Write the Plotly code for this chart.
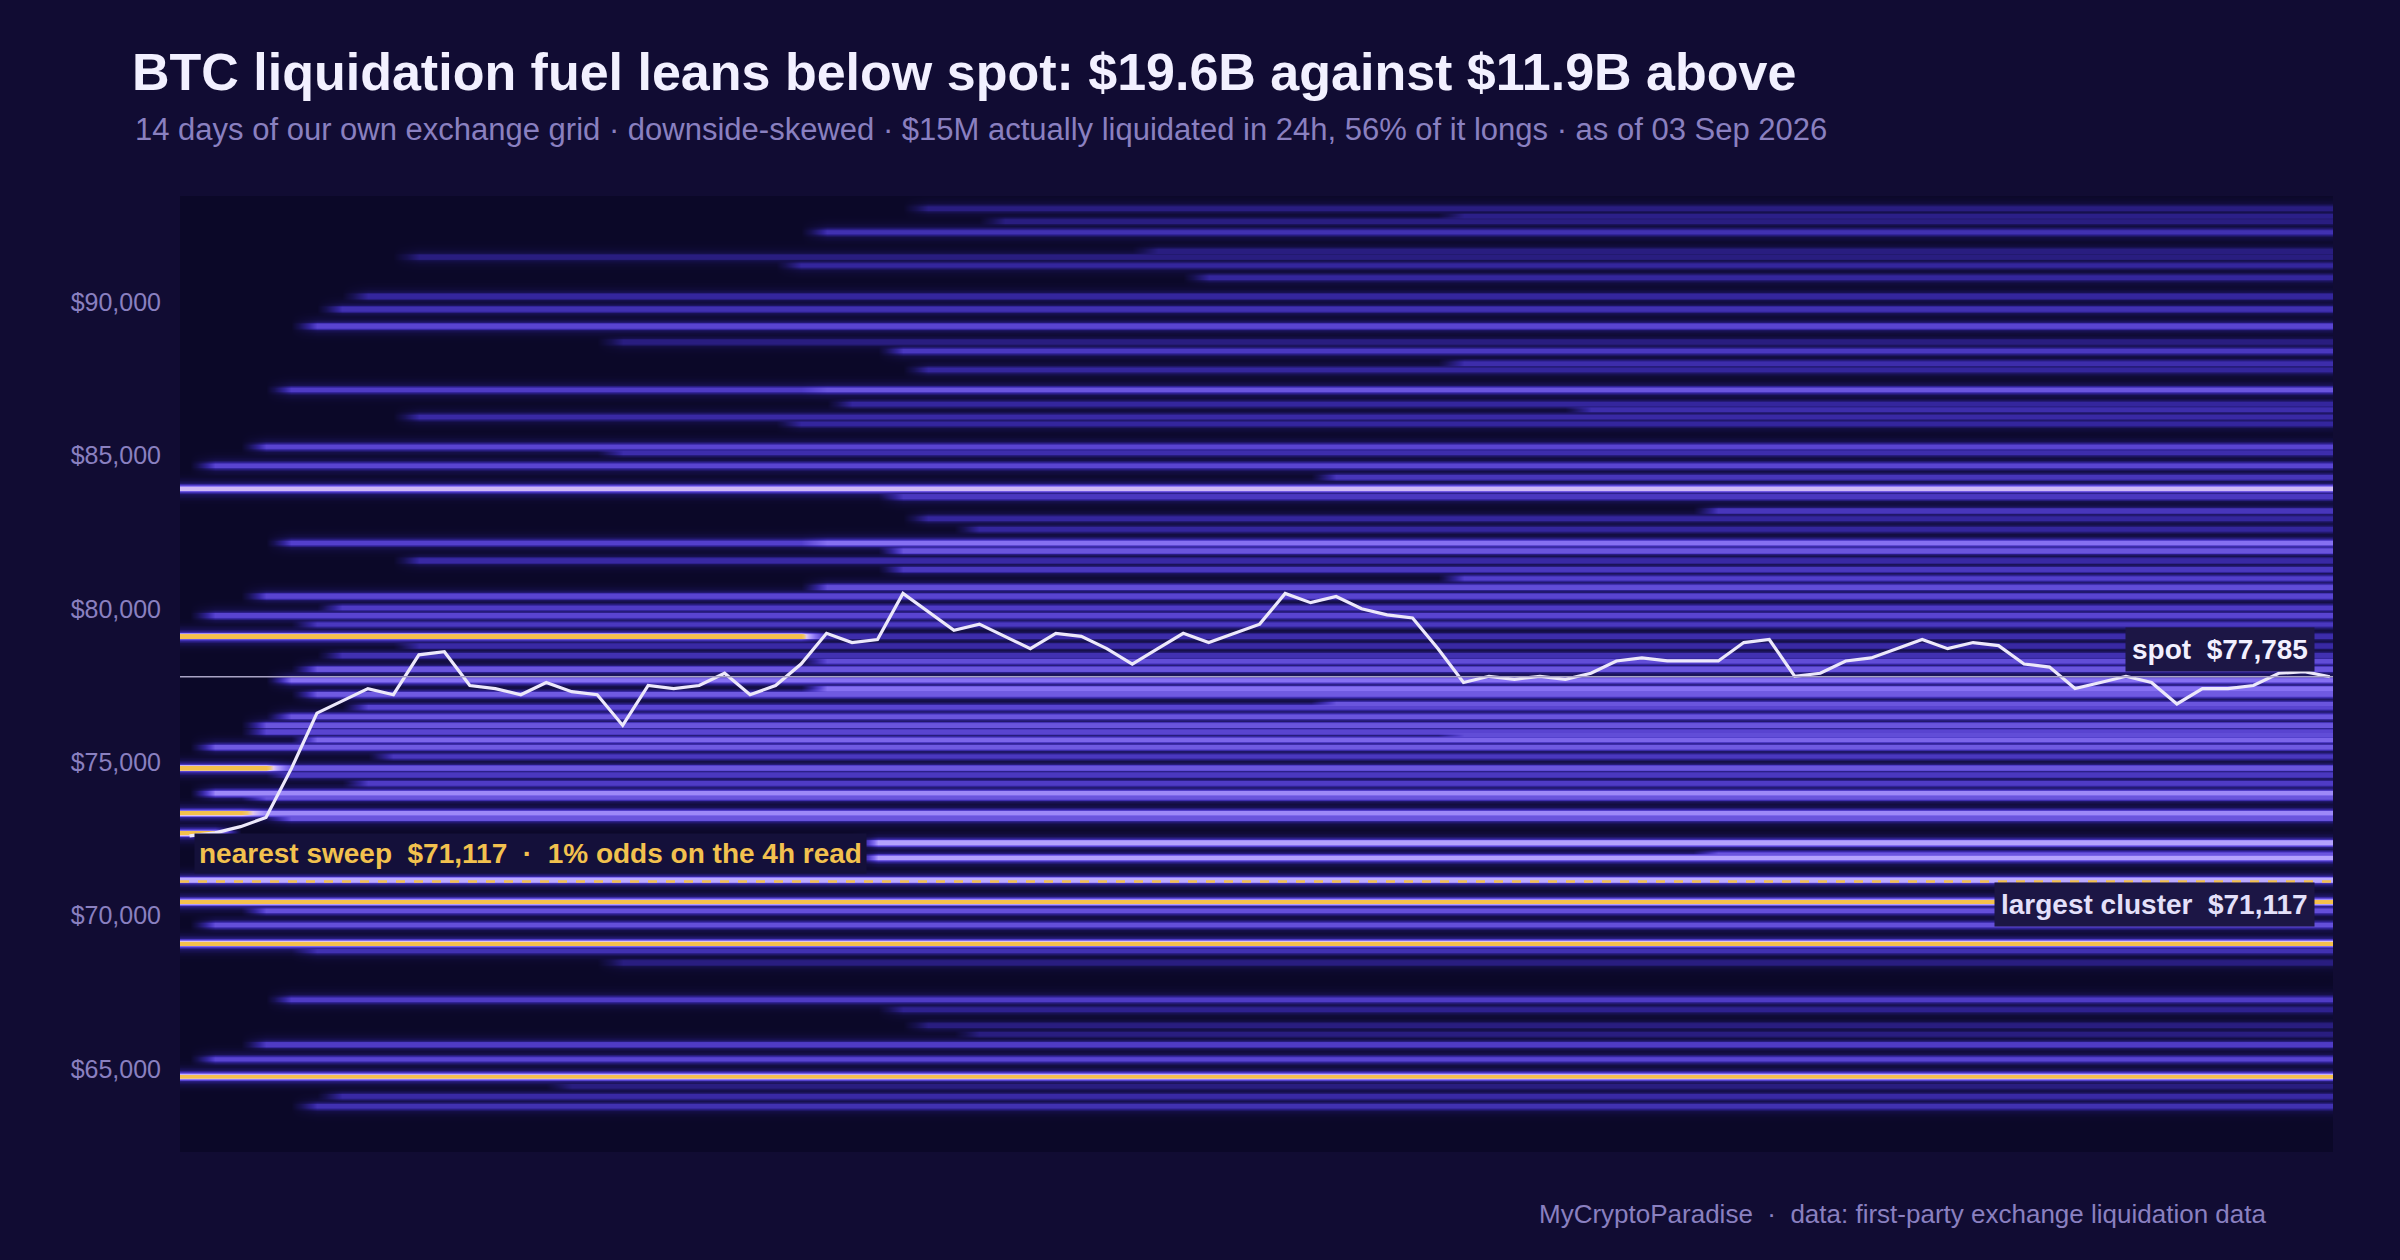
import numpy as np
import pandas as pd
import plotly.graph_objects as go

# ---- data ----
times = pd.date_range(end="2026-09-03 00:00", periods=85, freq="4h")
spot_path = [72.6,72.7,72.9,73.2,74.8,76.6,77.0,77.4,77.2,78.5,78.6,77.5,77.4,77.2,77.6,77.3,77.2,76.2,77.5,77.4,
             77.5,77.9,77.2,77.5,78.2,79.2,78.9,79.0,80.5,79.9,79.3,79.5,79.1,78.7,79.2,79.1,78.7,78.2,78.7,79.2,
             78.9,79.2,79.5,80.5,80.2,80.4,80.0,79.8,79.7,78.7,77.6,77.8,77.7,77.8,77.7,77.9,78.3,78.4,78.3,78.3,
             78.3,78.9,79.0,77.8,77.9,78.3,78.4,78.7,79.0,78.7,78.9,78.8,78.2,78.1,77.4,77.6,77.8,77.6,76.9,77.4,
             77.4,77.5,77.9,77.95,77.785]
spot_price = 77785
sweep_price = 71117
cluster_price = 71117
tick_vals = [65000, 70000, 75000, 80000, 85000, 90000]
tick_text = ["$65,000", "$70,000", "$75,000", "$80,000", "$85,000", "$90,000"]

band_price = [93050,92630,92280,91660,91470,91200,90190,89770,89220,88700,88410,87790,87140,87140,86680,86260,86040,
              85290,85100,84670,83920,83660,82950,82600,82160,82160,81900,81580,81290,80710,80420,80040,79790,79500,
              79110,79110,78800,78490,78300,78040,77680,77400,77220,76800,76500,76210,76000,75740,75500,75200,74820,74820,
              74600,74320,74000,73870,73350,73350,73190,72700,72380,71890,71170,70460,70170,69710,69100,68870,68480,
              67270,66950,66430,66150,65810,65330,64770,64450,64120,63800,
              92800,90800,88000,86500,84300,83200,81000,76900,75900,72000]
band_level = [0.28,0.28,0.42,0.28,0.28,0.36,0.36,0.42,0.52,0.28,0.46,0.36,0.48,0.58,0.36,0.38,0.36,
              0.52,0.40,0.52,0.85,0.46,0.36,0.36,0.50,0.68,0.58,0.38,0.46,0.55,0.52,0.48,0.52,0.46,
              1.00,0.40,0.38,0.42,0.55,0.58,0.68,0.68,0.60,0.52,0.58,0.58,0.52,0.64,0.60,0.46,1.00,0.52,
              0.46,0.48,0.74,0.58,1.00,0.74,0.58,1.00,0.80,0.80,0.82,1.00,0.56,0.56,1.00,0.42,0.28,
              0.48,0.32,0.28,0.28,0.48,0.52,1.00,0.28,0.38,0.42,
              0.30,0.36,0.40,0.40,0.45,0.45,0.50,0.58,0.55,0.58]
band_start = [29,32,25,38,9,24,7,6,5,17,28,29,4,25,26,9,24,
              3,17,1,0,28,29,31,4,25,28,9,28,25,3,6,1,5,
              0,25,9,6,25,5,4,25,5,7,4,3,3,5,1,8,0,4,
              4,7,1,3,0,3,4,0,27,27,0,0,3,1,0,5,17,
              4,28,29,31,3,1,0,15,6,5,
              50,40,50,55,45,60,50,45,50,60]
band_end = [85]*len(band_price)
band_end[34] = 25
band_end[50] = 4
band_end[56] = 3
band_end[59] = 2

# ---- build grid ----
y = np.arange(62300, 93475, 25)
z = np.zeros((len(y), len(times)))
def put(p, lv, s, e, sig=70.0):
    prof = lv * np.exp(-0.5 * ((y - p) / sig) ** 2) + 0.35 * lv * np.exp(-0.5 * ((y - p) / 180.0) ** 2)
    z[:, s:e] = np.maximum(z[:, s:e], np.minimum(prof, lv)[:, None])
for p, lv, s, e in zip(band_price, band_level, band_start, band_end):
    put(p, lv, s, e)
put(79110, 0.40, 25, 85)
put(74820, 0.58, 4, 85)
put(73350, 0.58, 4, 85)

cs = [[0, "#0b0828"], [0.15, "#171150"], [0.35, "#32249a"], [0.5, "#533fcc"], [0.68, "#8670f2"],
      [0.82, "#bcaaff"], [0.88, "#e2c8ec"], [0.94, "#f0c870"], [1, "#f4c04c"]]

fig = go.Figure()
fig.add_trace(go.Heatmap(x=times, y=y, z=z, colorscale=cs, zmin=0, zmax=1, zsmooth="best",
                         showscale=False, hoverinfo="skip"))
fig.add_trace(go.Scatter(x=times, y=[v * 1000 for v in spot_path], mode="lines",
                         line=dict(color="#ece8fa", width=3.2), hoverinfo="skip", showlegend=False))

fig.add_hline(y=spot_price, line=dict(color="#a9a3c4", width=1.5))
fig.add_hline(y=sweep_price, line=dict(color="#f2c14e", width=2.5, dash="dash"))

fig.add_annotation(x=1, xref="paper", xanchor="right", y=spot_price + 150, yanchor="bottom",
                   text="<b>spot  $77,785</b>", showarrow=False, font=dict(size=28, color="#f2f0ff",
                   family="Liberation Sans"), bgcolor="#1c1645", borderpad=6, xshift=-18)
fig.add_annotation(x=1, xref="paper", xanchor="right", y=70380, yanchor="middle",
                   text="<b>largest cluster  $71,117</b>", showarrow=False, font=dict(size=28, color="#e4e0fa",
                   family="Liberation Sans"), bgcolor="#1c1645", borderpad=6, xshift=-18)
fig.add_annotation(x=0, xref="paper", xanchor="left", y=72030, yanchor="middle",
                   text="<b>nearest sweep  $71,117  ·  1% odds on the 4h read</b>", showarrow=False,
                   font=dict(size=28, color="#f2c14e", family="Liberation Sans"),
                   bgcolor="#14103a", borderpad=4, xshift=14)
fig.add_annotation(x=-0.0218, y=1.070, xref="paper", yref="paper", xanchor="left",
                   yanchor="middle", showarrow=False,
                   text="14 days of our own exchange grid · downside-skewed · $15M actually liquidated in 24h, 56% of it longs · as of 03 Sep 2026",
                   font=dict(size=31, color="#8a80c0"))
fig.add_annotation(x=0.970, y=-0.065, xref="paper", yref="paper", xanchor="right",
                   yanchor="middle", showarrow=False,
                   text="MyCryptoParadise  ·  data: first-party exchange liquidation data",
                   font=dict(size=26, color="#8a80c0"))

fig.update_layout(
    width=2400, height=1260,
    paper_bgcolor="#110c33", plot_bgcolor="#0b0828",
    margin=dict(l=180, r=67, t=196, b=108),
    font=dict(family="Liberation Sans", color="#8a80c0"),
    title=dict(text="<b>BTC liquidation fuel leans below spot: $19.6B against $11.9B above</b>",
               x=132 / 2400, xanchor="left", y=1 - 72 / 1260, yanchor="middle",
               font=dict(size=52, color="#f2f0ff")),
    xaxis=dict(visible=False, range=[times[0] - pd.Timedelta(hours=1.5), times[-1] + pd.Timedelta(hours=0.5)]),
    yaxis=dict(range=[62300, 93450], tickvals=tick_vals, ticktext=tick_text,
               showgrid=False, zeroline=False,
               tickfont=dict(size=25, color="#8a80c0"), ticks="", ticklabelstandoff=18),
    showlegend=False,
)
fig.write_html("out.html", config={"displayModeBar": False},
               post_script="document.body.style.margin='0';document.body.style.background='#110c33';document.body.style.overflow='hidden';")
